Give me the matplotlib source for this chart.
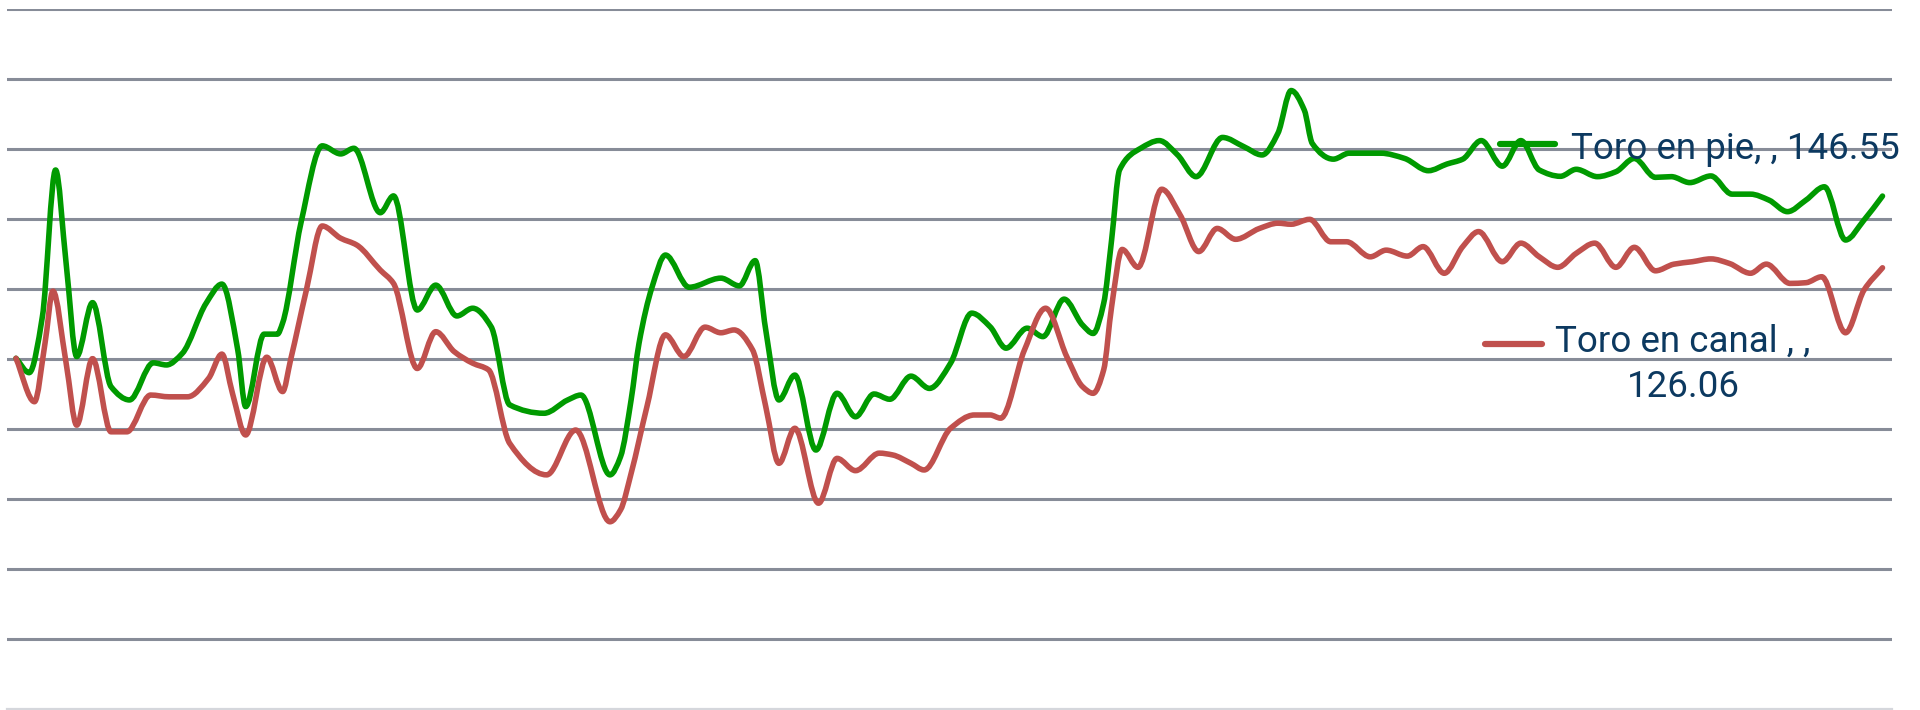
import numpy as np
import matplotlib
matplotlib.use("Agg")
import matplotlib.pyplot as plt
from matplotlib.path import Path
from matplotlib.patches import PathPatch
from matplotlib.lines import Line2D

# Precio por kg (x = dias desde el primer dato)
dias_pie = [0, 5, 10, 15, 19, 23, 29, 36, 43, 52, 57, 63, 72, 78, 84, 87, 94, 99, 101, 108,
            116, 123, 128, 138, 143, 152, 159, 167, 173, 180, 187, 200, 209, 214, 225, 229, 233,
            236, 241, 246, 255, 267, 274, 280, 284, 289, 295, 303, 311, 318, 325, 331, 339, 346,
            354, 362, 369, 375, 383, 389, 397, 404, 408, 412, 415, 418, 426, 433, 440, 447, 457,
            465, 472, 478, 483, 488, 491, 499, 505, 517, 526, 535, 542, 548, 555, 563, 570, 577,
            585, 591, 599, 606, 613, 621, 627, 634, 642, 650, 657, 664, 671, 678, 685, 693, 700, 707]
precio_pie = [100.2, 96.1, 112.1, 154.0, 127.3, 100.7, 116.1, 92.1, 88.3, 98.9, 98.3, 101.6, 115.9,
              121.4, 102.6, 86.4, 107.1, 107.1, 110.3, 139.1, 160.9, 158.6, 160.2, 141.8, 146.6,
              114.0, 121.1, 112.3, 114.5, 109.2, 86.9, 84.5, 88.3, 89.7, 66.9, 72.1, 88.3, 104.5,
              120.7, 129.7, 120.5, 123.1, 120.9, 128.1, 108.3, 88.3, 95.4, 74.0, 90.2, 83.5, 90.0,
              88.5, 95.1, 91.6, 98.8, 113.1, 109.2, 103.1, 108.8, 106.4, 117.1, 109.7, 107.3, 115.9,
              134.0, 154.0, 160.2, 162.4, 158.3, 152.1, 163.3, 160.7, 158.3, 164.5, 176.7, 171.1,
              161.6, 157.1, 158.8, 158.8, 157.3, 153.8, 155.7, 157.1, 162.4, 155.1, 162.4, 154.0,
              152.2, 154.2, 152.1, 153.5, 157.3, 151.9, 152.1, 150.4, 152.3, 147.1, 147.1, 145.4,
              142.1, 145.4, 149.2, 134.0, 139.7, 146.55]

dias_canal = [0, 7, 11, 14, 19, 23, 29, 36, 42, 51, 58, 65, 73, 78, 82, 87, 95, 101, 104, 110,
              116, 123, 129, 138, 143, 152, 159, 166, 173, 179, 187, 201, 212, 225, 229, 233, 239,
              246, 253, 261, 267, 272, 279, 284, 289, 295, 304, 311, 318, 327, 332, 339, 344, 354,
              363, 369, 373, 382, 390, 398, 404, 408, 412, 415, 419, 425, 434, 441, 448, 455, 462,
              471, 478, 483, 490, 498, 504, 513, 519, 527, 533, 541, 548, 554, 563, 570, 577, 584,
              591, 598, 606, 613, 621, 628, 635, 642, 649, 657, 663, 672, 678, 684, 693, 700, 707]
precio_canal = [100.2, 87.8, 104.5, 119.4, 98.8, 81.1, 100.1, 79.2, 79.2, 89.7, 89.2, 89.2, 94.5,
                101.4, 90.2, 78.3, 100.5, 90.7, 99.7, 119.7, 138.0, 134.5, 132.6, 125.4, 121.6,
                97.3, 107.8, 102.1, 98.8, 96.9, 75.9, 66.9, 79.7, 53.5, 56.9, 67.3, 86.4, 106.9,
                100.7, 109.1, 107.5, 108.3, 102.6, 86.4, 70.2, 80.2, 58.8, 71.6, 68.1, 73.1, 72.6,
                70.2, 68.3, 80.2, 84.0, 84.0, 83.1, 102.6, 114.5, 100.7, 92.1, 90.2, 96.9, 114.9,
                131.3, 126.2, 148.5, 141.1, 130.7, 137.3, 134.2, 137.3, 138.8, 138.5, 139.9, 133.5,
                133.5, 129.2, 131.1, 129.4, 132.1, 124.5, 132.1, 136.4, 127.8, 133.1, 129.2, 126.2,
                130.2, 133.1, 126.2, 131.9, 125.2, 127.1, 127.8, 128.6, 127.3, 124.5, 127.1, 121.6,
                121.8, 123.5, 107.5, 119.7, 126.06]

label_pie = "Toro en pie, , 146.55"
label_canal = ["Toro en canal , ,", "126.06"]
y_ticks = list(range(0, 201, 20))

GREEN = "#009a00"
RED = "#c0504d"
GRID = "#878c98"
TEXT = "#0c3960"

plt.rcParams["font.family"] = ["Roboto", "DejaVu Sans"]


def smooth_path(x, y):
    """Monotone cubic (pchip style) curve through the points, as a bezier path."""
    x = np.asarray(x, float)
    y = np.asarray(y, float)
    h = np.diff(x)
    d = np.diff(y) / h
    m = np.zeros_like(x)
    m[0], m[-1] = d[0], d[-1]
    for i in range(1, len(x) - 1):
        if d[i - 1] * d[i] <= 0:
            m[i] = 0.0
        else:
            w1 = 2 * h[i] + h[i - 1]
            w2 = h[i] + 2 * h[i - 1]
            m[i] = (w1 + w2) / (w1 / d[i - 1] + w2 / d[i])
    verts = [(x[0], y[0])]
    codes = [Path.MOVETO]
    for i in range(len(x) - 1):
        verts += [(x[i] + h[i] / 3, y[i] + m[i] * h[i] / 3),
                  (x[i + 1] - h[i] / 3, y[i + 1] - m[i + 1] * h[i] / 3),
                  (x[i + 1], y[i + 1])]
        codes += [Path.CURVE4] * 3
    return Path(verts, codes)


fig = plt.figure(figsize=(19.2, 7.1), dpi=100)
ax = fig.add_axes([7 / 1920, 1 / 710, 1885 / 1920, 700 / 710])
ax.set_xlim(-3.4, 710.6)
ax.set_ylim(0, 200)

ax.set_yticks(y_ticks[1:])
ax.grid(axis="y", color=GRID, linewidth=2.2)
ax.set_axisbelow(True)
ax.tick_params(length=0, labelleft=False, labelbottom=False)
ax.set_xticks([])
for side in ["top", "left", "right"]:
    ax.spines[side].set_visible(False)
ax.spines["bottom"].set_color("#d5d7dc")
ax.spines["bottom"].set_linewidth(1.6)

for xs, ys, color in [(dias_pie, precio_pie, GREEN), (dias_canal, precio_canal, RED)]:
    patch = PathPatch(smooth_path(xs, ys), facecolor="none", edgecolor=color,
                      linewidth=4.0, capstyle="round", joinstyle="round", zorder=3)
    ax.add_patch(patch)

# legend drawn by hand, it sits inside the plot
fig.add_artist(Line2D([0.7813, 0.8099], [0.797, 0.797], color=GREEN, lw=4.5,
                      solid_capstyle="round", transform=fig.transFigure))
fig.text(0.8182, 0.7756, label_pie, color=TEXT, fontsize=26.5, va="baseline", ha="left")

fig.add_artist(Line2D([0.7734, 0.8030], [0.5155, 0.5155], color=RED, lw=4.5,
                      solid_capstyle="round", transform=fig.transFigure))
fig.text(0.8766, 0.5046, label_canal[0], color=TEXT, fontsize=26.5, va="baseline", ha="center")
fig.text(0.8766, 0.4413, label_canal[1], color=TEXT, fontsize=26.5, va="baseline", ha="center")

fig.savefig("out.png", dpi=100)
